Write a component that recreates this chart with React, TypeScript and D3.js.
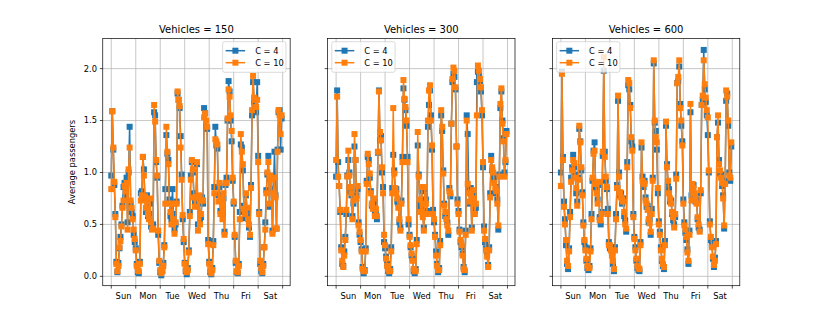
import React from "react";
import * as d3 from "d3";

const dayLabels = ["Sun", "Mon", "Tue", "Wed", "Thu", "Fri", "Sat"];
const vehicleCounts = [150, 300, 600];
const capacityLabels = ["C = 4", "C = 10"];
const yTicks = [0, 0.5, 1.0, 1.5, 2.0];

// average passengers per hour, one row per day (Sun..Sat)
const v150c4 = [
  [0.97, 1.59, 1.22, 0.88, 0.60, 0.14, 0.04, 0.13, 0.27, 0.38, 0.50, 0.68, 0.86, 0.90, 0.76, 0.95, 0.52, 1.00, 1.44, 0.70, 0.62, 0.58, 0.40, 0.33],
  [0.27, 0.12, 0.04, 0.03, 0.14, 0.80, 0.82, 1.15, 1.03, 0.74, 0.62, 0.78, 0.58, 0.60, 0.70, 0.48, 0.47, 0.50, 1.58, 1.55, 1.10, 0.95, 0.40, 0.13],
  [0.04, 0.01, 0.05, 0.13, 0.30, 0.84, 1.36, 1.18, 1.12, 0.74, 0.58, 0.55, 0.84, 0.60, 0.45, 0.50, 0.72, 1.76, 1.70, 1.62, 1.35, 0.98, 0.55, 0.33],
  [0.13, 0.05, 0.02, 0.08, 0.25, 0.62, 0.97, 1.10, 1.00, 0.80, 0.71, 0.72, 1.08, 0.50, 0.74, 0.52, 0.57, 0.76, 0.70, 1.62, 1.57, 1.44, 1.42, 0.35],
  [0.14, 0.04, 0.02, 0.08, 0.34, 0.86, 1.44, 1.26, 1.23, 0.78, 0.86, 0.63, 0.78, 0.60, 0.75, 0.43, 0.88, 0.95, 1.50, 1.88, 1.78, 1.50, 1.30, 0.92],
  [0.70, 0.38, 0.13, 0.04, 0.03, 0.12, 0.62, 1.27, 1.24, 1.02, 0.68, 0.56, 0.78, 0.64, 0.58, 0.47, 0.38, 0.88, 1.55, 1.87, 1.68, 1.62, 1.58, 1.87],
  [1.16, 0.62, 0.12, 0.05, 0.03, 0.12, 0.28, 0.52, 0.83, 0.98, 1.16, 0.67, 0.94, 0.96, 0.44, 0.84, 1.20, 0.78, 0.46, 1.22, 1.58, 1.60, 1.22, 1.52],
].flat();

const v150c10 = [
  [0.84, 1.59, 1.24, 0.91, 0.57, 0.12, 0.05, 0.10, 0.28, 0.34, 0.48, 0.66, 0.73, 0.87, 0.82, 0.90, 0.45, 1.03, 1.24, 0.73, 0.66, 0.55, 0.45, 0.36],
  [0.25, 0.10, 0.06, 0.05, 0.12, 0.73, 0.78, 1.15, 0.97, 0.77, 0.66, 0.72, 0.60, 0.55, 0.75, 0.52, 0.45, 0.46, 1.65, 1.49, 1.12, 0.97, 0.44, 0.15],
  [0.06, 0.03, 0.05, 0.10, 0.28, 0.70, 1.44, 1.20, 1.08, 0.70, 0.62, 0.50, 0.70, 0.55, 0.41, 0.52, 0.70, 1.78, 1.70, 1.64, 1.24, 0.93, 0.59, 0.36],
  [0.12, 0.06, 0.04, 0.06, 0.23, 0.58, 0.93, 1.12, 1.03, 0.76, 0.67, 0.76, 1.10, 0.44, 0.78, 0.50, 0.60, 0.73, 0.73, 1.53, 1.57, 1.50, 1.44, 0.31],
  [0.12, 0.06, 0.03, 0.06, 0.30, 0.80, 1.32, 1.30, 1.27, 0.72, 0.90, 0.60, 0.75, 0.55, 0.80, 0.40, 0.90, 0.90, 1.52, 1.80, 1.73, 1.55, 1.40, 0.95],
  [0.72, 0.40, 0.15, 0.05, 0.04, 0.10, 0.55, 1.37, 1.20, 1.08, 0.65, 0.60, 0.80, 0.66, 0.55, 0.50, 0.40, 0.85, 1.60, 1.93, 1.72, 1.70, 1.63, 1.70],
  [1.10, 0.60, 0.15, 0.08, 0.04, 0.10, 0.28, 0.45, 0.80, 1.00, 1.10, 0.70, 0.97, 0.93, 0.41, 0.80, 0.95, 0.76, 0.46, 1.20, 1.60, 1.55, 1.37, 1.55],
].flat();

const v300c4 = [
  [0.96, 1.79, 1.10, 0.87, 0.62, 0.28, 0.12, 0.10, 0.24, 0.38, 0.60, 0.97, 1.12, 1.00, 0.82, 0.78, 0.58, 0.70, 1.25, 1.12, 0.78, 0.84, 0.52, 0.40],
  [0.33, 0.26, 0.09, 0.03, 0.06, 0.27, 0.92, 1.15, 1.12, 0.95, 0.82, 0.68, 0.70, 0.72, 0.61, 0.62, 0.55, 1.19, 1.79, 1.31, 1.35, 1.00, 0.86, 0.33],
  [0.27, 0.19, 0.12, 0.05, 0.03, 0.07, 0.28, 0.85, 1.17, 1.02, 0.82, 0.84, 0.72, 0.70, 0.52, 0.47, 0.73, 1.15, 1.81, 1.70, 1.60, 1.45, 1.15, 0.50],
  [0.40, 0.28, 0.20, 0.17, 0.05, 0.03, 0.07, 0.35, 1.26, 0.98, 0.70, 0.65, 0.82, 0.60, 0.47, 0.84, 0.74, 0.63, 1.44, 1.65, 1.79, 1.55, 1.22, 0.64],
  [0.52, 0.40, 0.24, 0.12, 0.04, 0.08, 0.34, 1.55, 1.40, 1.02, 0.70, 0.58, 0.59, 0.52, 0.40, 0.85, 0.77, 1.47, 1.87, 1.95, 1.92, 1.80, 1.25, 0.74],
  [0.63, 0.45, 0.33, 0.28, 0.22, 0.09, 0.04, 0.44, 1.55, 1.37, 0.84, 0.70, 0.85, 0.47, 0.80, 0.78, 0.63, 0.66, 1.87, 1.97, 1.93, 1.88, 1.78, 1.55],
  [1.05, 0.48, 0.33, 0.27, 0.22, 0.11, 0.28, 0.80, 1.16, 1.02, 0.96, 0.93, 0.80, 0.86, 0.74, 0.45, 0.98, 1.62, 1.78, 1.50, 1.33, 1.00, 1.10, 1.40],
].flat();

const v300c10 = [
  [1.12, 1.73, 0.96, 0.87, 0.64, 0.25, 0.15, 0.09, 0.20, 0.35, 0.64, 0.96, 1.21, 0.97, 0.86, 0.80, 0.55, 0.73, 1.37, 1.12, 0.75, 0.87, 0.49, 0.43],
  [0.35, 0.24, 0.07, 0.05, 0.05, 0.24, 0.89, 1.18, 1.08, 0.99, 0.80, 0.70, 0.65, 0.75, 0.58, 0.65, 0.58, 1.20, 1.78, 1.39, 1.31, 1.05, 0.80, 0.40],
  [0.30, 0.17, 0.10, 0.07, 0.05, 0.05, 0.24, 0.80, 1.62, 0.99, 0.85, 0.80, 0.75, 0.66, 0.55, 0.44, 0.70, 1.10, 1.89, 1.71, 1.63, 1.50, 1.10, 0.55],
  [0.38, 0.30, 0.22, 0.15, 0.07, 0.05, 0.05, 0.31, 1.39, 0.96, 0.74, 0.62, 0.86, 0.57, 0.44, 0.86, 0.70, 0.60, 1.50, 1.79, 1.84, 1.50, 1.26, 0.60],
  [0.55, 0.38, 0.20, 0.10, 0.06, 0.06, 0.30, 1.60, 1.44, 0.99, 0.68, 0.62, 0.55, 0.49, 0.44, 0.82, 0.80, 1.47, 1.90, 2.01, 1.98, 1.82, 1.25, 0.70],
  [0.60, 0.43, 0.35, 0.30, 0.20, 0.07, 0.06, 0.40, 1.50, 0.89, 0.80, 0.72, 0.80, 0.44, 0.83, 0.75, 0.60, 0.70, 1.55, 2.03, 1.98, 1.90, 1.82, 1.60],
  [1.10, 0.44, 0.36, 0.25, 0.19, 0.09, 0.25, 0.76, 1.12, 1.05, 1.00, 0.90, 0.85, 0.82, 0.70, 0.49, 0.96, 1.66, 1.81, 1.47, 1.30, 0.96, 1.12, 1.37],
].flat();

const v600c4 = [
  [1.00, 1.97, 1.15, 0.72, 0.55, 0.30, 0.12, 0.07, 0.27, 0.62, 0.95, 1.05, 1.17, 1.05, 0.98, 0.80, 0.72, 0.95, 1.42, 1.30, 1.02, 0.81, 0.52, 0.33],
  [0.28, 0.15, 0.08, 0.06, 0.10, 0.27, 0.60, 0.92, 1.21, 1.29, 0.86, 0.84, 0.74, 0.88, 0.57, 0.50, 0.62, 1.16, 1.98, 1.20, 0.92, 0.84, 0.65, 0.33],
  [0.27, 0.28, 0.22, 0.12, 0.05, 0.28, 0.60, 0.88, 1.69, 1.00, 0.78, 0.80, 0.70, 0.75, 0.58, 0.54, 0.43, 1.10, 1.84, 1.80, 1.65, 1.30, 1.25, 0.60],
  [0.38, 0.28, 0.15, 0.08, 0.06, 0.05, 0.33, 1.24, 0.96, 0.86, 0.92, 0.76, 0.67, 0.68, 0.52, 0.55, 0.40, 0.65, 0.95, 2.05, 1.48, 1.40, 1.22, 0.80],
  [0.53, 0.43, 0.28, 0.15, 0.10, 0.07, 0.34, 1.45, 1.08, 0.90, 0.84, 0.72, 0.73, 0.60, 0.54, 0.50, 0.57, 0.98, 1.86, 1.88, 2.02, 1.66, 1.45, 1.30],
  [0.74, 0.52, 0.42, 0.35, 0.26, 0.12, 0.44, 1.58, 0.78, 0.86, 0.88, 0.77, 0.72, 0.74, 0.55, 0.47, 0.45, 0.80, 1.65, 1.70, 2.18, 1.80, 1.68, 1.55],
  [1.36, 1.00, 0.53, 0.35, 0.30, 0.17, 0.09, 0.18, 0.34, 1.34, 1.48, 1.12, 0.99, 0.98, 0.87, 0.78, 0.46, 0.92, 1.69, 1.76, 1.45, 1.00, 0.92, 1.25],
].flat();

const v600c10 = [
  [0.87, 1.95, 1.12, 0.67, 0.50, 0.35, 0.15, 0.10, 0.24, 0.57, 0.91, 1.02, 1.12, 1.09, 0.95, 0.85, 0.68, 0.93, 1.45, 1.29, 1.05, 0.78, 0.49, 0.35],
  [0.25, 0.17, 0.10, 0.08, 0.08, 0.24, 0.55, 0.95, 1.18, 1.21, 0.89, 0.80, 0.70, 0.91, 0.54, 0.54, 0.60, 1.20, 2.11, 1.15, 0.96, 0.86, 0.60, 0.30],
  [0.30, 0.25, 0.20, 0.15, 0.07, 0.25, 0.55, 0.85, 1.74, 0.96, 0.81, 0.76, 0.74, 0.72, 0.62, 0.50, 0.46, 1.05, 1.89, 1.86, 1.62, 1.34, 1.21, 0.57],
  [0.36, 0.25, 0.17, 0.10, 0.08, 0.07, 0.30, 1.29, 0.92, 0.90, 0.89, 0.73, 0.70, 0.64, 0.55, 0.51, 0.43, 0.60, 0.92, 2.08, 1.50, 1.34, 1.29, 0.85],
  [0.50, 0.40, 0.25, 0.17, 0.12, 0.09, 0.30, 1.49, 1.05, 0.92, 0.80, 0.75, 0.70, 0.62, 0.57, 0.47, 0.60, 0.94, 1.86, 1.92, 2.08, 1.62, 1.50, 1.26],
  [0.70, 0.49, 0.45, 0.38, 0.23, 0.15, 0.40, 1.66, 0.73, 0.89, 0.85, 0.80, 0.75, 0.70, 0.57, 0.50, 0.43, 0.83, 1.65, 1.74, 2.08, 1.85, 1.72, 1.60],
  [1.53, 1.02, 0.50, 0.38, 0.28, 0.19, 0.11, 0.15, 0.31, 1.34, 1.55, 1.08, 1.02, 0.95, 0.90, 0.75, 0.49, 0.89, 1.79, 1.73, 1.50, 0.97, 0.95, 1.29],
].flat();

const panelSeries = [
  [v150c4, v150c10],
  [v300c4, v300c10],
  [v600c4, v600c10],
];

const colors = ["#1f77b4", "#ff7f0e"];

const W = 822;
const H = 321;
const axTop = 38.5;
const axBottom = 285.7;
const axW = 187.4;
const axLefts = [102.75, 327.6, 552.4];
const font = "DejaVu Sans, sans-serif";

const nHours = dayLabels.length * 24;
const pad = (nHours - 1) * 0.05;

const y = d3.scaleLinear().domain([-0.09, 2.29]).range([axBottom, axTop]);

function Panel({ idx }: { idx: number }) {
  const left = axLefts[idx];
  const x = d3
    .scaleLinear()
    .domain([-pad, nHours - 1 + pad])
    .range([left, left + axW]);
  const line = d3
    .line<number>()
    .x((_, i) => x(i))
    .y((d) => y(d));
  const majors = d3.range(0, nHours + 1, 24);
  const ms = 6;

  // legend placement
  const legW = 63.3;
  const legH = 30.6;
  const legX = idx === 0 ? left + axW - 4.2 - legW : left + 4.2;
  const legY = axTop + 3.2;

  return (
    <g>
      {/* grid */}
      {yTicks.map((t) => (
        <line key={"gy" + t} x1={left} x2={left + axW} y1={y(t)} y2={y(t)} stroke="#b0b0b0" strokeWidth={0.7} />
      ))}
      {majors.map((t) => (
        <line key={"gx" + t} x1={x(t)} x2={x(t)} y1={axTop} y2={axBottom} stroke="#b0b0b0" strokeWidth={0.7} />
      ))}

      {/* series */}
      {panelSeries[idx].map((s, si) => (
        <g key={"s" + si}>
          <path d={line(s) || ""} fill="none" stroke={colors[si]} strokeWidth={1.5} strokeLinejoin="round" />
          {s.map((v, i) => (
            <rect key={i} x={x(i) - ms / 2} y={y(v) - ms / 2} width={ms} height={ms} fill={colors[si]} />
          ))}
        </g>
      ))}

      {/* spines */}
      <rect x={left} y={axTop} width={axW} height={axBottom - axTop} fill="none" stroke="#000" strokeWidth={0.7} />

      {/* y ticks */}
      {yTicks.map((t) => (
        <g key={"yt" + t}>
          <line x1={left - 2.9} x2={left} y1={y(t)} y2={y(t)} stroke="#000" strokeWidth={0.7} />
          {idx === 0 && (
            <text x={left - 5.8} y={y(t)} dy="0.35em" textAnchor="end" fontSize={8.3} fontFamily={font} fill="#000">
              {t.toFixed(1)}
            </text>
          )}
        </g>
      ))}

      {/* x ticks */}
      {majors.map((t) => (
        <line key={"xt" + t} x1={x(t)} x2={x(t)} y1={axBottom} y2={axBottom + 2.9} stroke="#000" strokeWidth={0.7} />
      ))}
      {dayLabels.map((d, i) => (
        <text key={d} x={x(i * 24 + 12)} y={299} textAnchor="middle" fontSize={8.3} fontFamily={font} fill="#000">
          {d}
        </text>
      ))}

      {/* title */}
      <text x={left + axW / 2} y={33.3} textAnchor="middle" fontSize={10} fontFamily={font} fill="#000">
        {`Vehicles = ${vehicleCounts[idx]}`}
      </text>

      {/* legend */}
      <rect x={legX} y={legY} width={legW} height={legH} rx={2} fill="#fff" fillOpacity={0.8} stroke="#cccccc" strokeWidth={0.7} />
      {capacityLabels.map((lab, li) => {
        const cy = legY + 9 + li * 12;
        return (
          <g key={lab}>
            <line x1={legX + 3} x2={legX + 22.5} y1={cy} y2={cy} stroke={colors[li]} strokeWidth={1.5} />
            <rect x={legX + 12.75 - ms / 2} y={cy - ms / 2} width={ms} height={ms} fill={colors[li]} />
            <text x={legX + 32.5} y={cy} dy="0.35em" fontSize={8.3} fontFamily={font} fill="#000">
              {lab}
            </text>
          </g>
        );
      })}
    </g>
  );
}

export default function App() {
  return (
    <div style={{ position: "absolute", left: 0, top: 0, background: "#fff" }}>
      <svg width={W} height={H} style={{ display: "block" }}>
        <rect width={W} height={H} fill="#fff" />
        {vehicleCounts.map((_, i) => (
          <Panel key={i} idx={i} />
        ))}
        <text
          transform={`translate(74.5,${(axTop + axBottom) / 2}) rotate(-90)`}
          textAnchor="middle"
          fontSize={8.3}
          fontFamily={font}
          fill="#000"
        >
          Average passengers
        </text>
      </svg>
    </div>
  );
}
